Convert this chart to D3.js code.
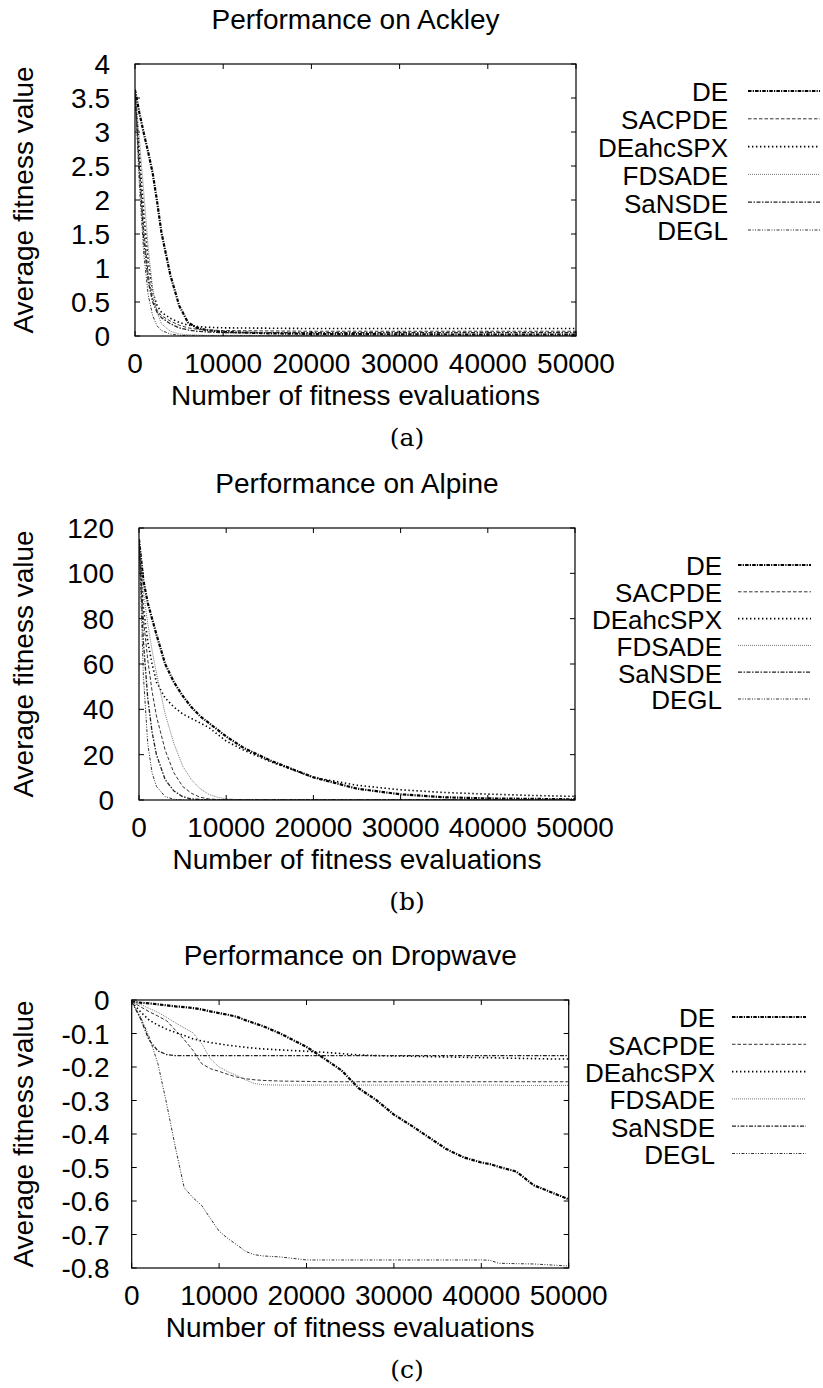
<!DOCTYPE html>
<html>
<head>
<meta charset="utf-8">
<script src="https://cdn.jsdelivr.net/npm/d3@7"></script>
<style>
  body { margin: 0; background: #fff; }
  svg { display: block; }
  text { font-family: "Liberation Sans", Arial, Helvetica, sans-serif; fill: #000; }
  .caption { font-family: "DejaVu Serif", "Liberation Serif", serif; }
</style>
</head>
<body>
<div id="chart"></div>
<script>
// series names in legend order
const seriesNames = ['DE', 'SACPDE', 'DEahcSPX', 'FDSADE', 'SaNSDE', 'DEGL']
const xTicks = [0, 10000, 20000, 30000, 40000, 50000]

// (a) Ackley
const ackleyX = [0, 500, 1000, 1500, 2000, 2500, 3000, 4000, 5000, 6000, 7000, 8000, 10000, 15000, 20000, 30000, 40000, 50000]
const ackleyDE = [3.62, 3.28, 2.98, 2.7, 2.4, 1.98, 1.52, 0.9, 0.45, 0.2, 0.12, 0.09, 0.06, 0.04, 0.03, 0.025, 0.02, 0.02]
const ackleySACPDE = [3.62, 2.5, 1.55, 0.9, 0.55, 0.38, 0.3, 0.22, 0.16, 0.12, 0.1, 0.09, 0.08, 0.075, 0.07, 0.07, 0.07, 0.07]
const ackleyDEahcSPX = [3.62, 2.7, 1.8, 1.1, 0.65, 0.45, 0.35, 0.26, 0.2, 0.16, 0.14, 0.13, 0.12, 0.115, 0.11, 0.11, 0.11, 0.11]
const ackleyFDSADE = [3.62, 2.9, 2.1, 1.3, 0.7, 0.35, 0.18, 0.07, 0.03, 0.02, 0.015, 0.01, 0.01, 0.01, 0.01, 0.01, 0.01, 0.01]
const ackleySaNSDE = [3.62, 2.4, 1.4, 0.8, 0.5, 0.35, 0.27, 0.18, 0.12, 0.09, 0.07, 0.06, 0.05, 0.05, 0.05, 0.05, 0.05, 0.05]
const ackleyDEGL = [3.62, 2.2, 1.2, 0.6, 0.3, 0.15, 0.08, 0.03, 0.01, 0.005, 0, 0, 0, 0, 0, 0, 0, 0]
const ackleyYTicks = [0, 0.5, 1, 1.5, 2, 2.5, 3, 3.5, 4]

// (b) Alpine
const alpineX = [0, 500, 1000, 1500, 2000, 3000, 4000, 5000, 6000, 7000, 8000, 9000, 10000, 12000, 15000, 20000, 25000, 30000, 35000, 40000, 45000, 50000]
const alpineDE = [115, 97, 87, 80, 73, 60, 52, 46, 41, 37, 34, 31, 28, 23, 17.5, 10, 5, 2.5, 1.2, 0.7, 0.5, 0.3]
const alpineSACPDE = [115, 80, 62, 48, 37, 22, 12, 6, 3, 1.2, 0.5, 0.2, 0, 0, 0, 0, 0, 0, 0, 0, 0, 0]
const alpineDEahcSPX = [115, 85, 70, 60, 52, 45, 41, 38, 36, 34, 32, 29, 26, 22, 17, 10, 6.5, 4.5, 3.3, 2.6, 2, 1.6]
const alpineFDSADE = [115, 92, 78, 66, 56, 38, 25, 15, 9, 5, 2.5, 1.2, 0.5, 0, 0, 0, 0, 0, 0, 0, 0, 0]
const alpineSaNSDE = [115, 70, 45, 30, 20, 9, 4, 1.5, 0.5, 0.2, 0, 0, 0, 0, 0, 0, 0, 0, 0, 0, 0, 0]
const alpineDEGL = [115, 55, 25, 12, 6, 1.5, 0.3, 0, 0, 0, 0, 0, 0, 0, 0, 0, 0, 0, 0, 0, 0, 0]
const alpineYTicks = [0, 20, 40, 60, 80, 100, 120]

// (c) Dropwave
const dropX = [0, 1000, 2000, 3000, 4000, 5000, 6000, 7000, 8000, 9000, 10000, 11000, 12000, 13000, 14000, 15000, 17000,
  20000, 22000, 24000, 26000, 28000, 30000, 32000, 34000, 36000, 38000, 40000, 41000, 42000, 44000, 46000, 48000, 50000]
const dropDE = [-0.005, -0.008, -0.01, -0.013, -0.016, -0.019, -0.021, -0.024, -0.028, -0.034, -0.039, -0.044, -0.05, -0.06, -0.069, -0.078, -0.1,
  -0.14, -0.174, -0.21, -0.264, -0.299, -0.342, -0.375, -0.41, -0.445, -0.47, -0.485, -0.49, -0.498, -0.512, -0.553, -0.574, -0.595]
const dropSACPDE = [-0.005, -0.02, -0.035, -0.048, -0.062, -0.09, -0.118, -0.15, -0.19, -0.205, -0.213, -0.222, -0.23, -0.235, -0.238, -0.24, -0.242,
  -0.243, -0.244, -0.244, -0.244, -0.244, -0.244, -0.244, -0.244, -0.244, -0.244, -0.244, -0.244, -0.244, -0.244, -0.244, -0.244, -0.244]
const dropDEahcSPX = [-0.005, -0.035, -0.06, -0.075, -0.087, -0.097, -0.106, -0.116, -0.122, -0.127, -0.131, -0.135, -0.138, -0.141, -0.144, -0.146, -0.149,
  -0.153, -0.156, -0.16, -0.164, -0.166, -0.167, -0.168, -0.169, -0.17, -0.171, -0.172, -0.172, -0.173, -0.174, -0.175, -0.176, -0.176]
const dropFDSADE = [-0.005, -0.013, -0.025, -0.037, -0.052, -0.068, -0.083, -0.098, -0.13, -0.176, -0.2, -0.214, -0.225, -0.238, -0.249, -0.253, -0.254,
  -0.254, -0.254, -0.254, -0.254, -0.254, -0.254, -0.254, -0.254, -0.254, -0.254, -0.254, -0.254, -0.254, -0.255, -0.255, -0.255, -0.255]
const dropSaNSDE = [-0.005, -0.055, -0.12, -0.152, -0.163, -0.166, -0.166, -0.166, -0.166, -0.166, -0.166, -0.166, -0.166, -0.166, -0.166, -0.166, -0.166,
  -0.166, -0.166, -0.166, -0.166, -0.166, -0.166, -0.166, -0.166, -0.166, -0.166, -0.166, -0.166, -0.166, -0.166, -0.166, -0.166, -0.166]
const dropDEGL = [-0.005, -0.05, -0.11, -0.19, -0.31, -0.44, -0.56, -0.59, -0.613, -0.652, -0.69, -0.712, -0.73, -0.75, -0.76, -0.764, -0.767,
  -0.776, -0.776, -0.776, -0.776, -0.776, -0.776, -0.776, -0.776, -0.776, -0.776, -0.776, -0.777, -0.786, -0.787, -0.788, -0.791, -0.794]
const dropYTicks = [0, -0.1, -0.2, -0.3, -0.4, -0.5, -0.6, -0.7, -0.8]

// gnuplot-like monochrome line styles, one per series
const lineStyles = {
  DE:       { stroke: '#000', width: 2.2, dash: '3.5,1.2,1.2,1.2' },
  SACPDE:   { stroke: '#333', width: 1,   dash: '3.5,2' },
  DEahcSPX: { stroke: '#000', width: 1.6, dash: '1.4,2.6' },
  FDSADE:   { stroke: '#777', width: 1,   dash: '1,1' },
  SaNSDE:   { stroke: '#222', width: 1.3, dash: '4,1.5,1.5,1.5' },
  DEGL:     { stroke: '#333', width: 1,   dash: '3,1.5,1,1.5,1,1.5' }
}

const panels = [
  { title: 'Performance on Ackley', caption: '(a)', xs: ackleyX,
    values: [ackleyDE, ackleySACPDE, ackleyDEahcSPX, ackleyFDSADE, ackleySaNSDE, ackleyDEGL],
    yDomain: [0, 4], yTicks: ackleyYTicks, yFormat: d => d3.format('')(d),
    top: 64, bottom: 336, left: 135, right: 576, tickGap: 25,
    legendX: 728, legendLine: [748, 820], legendY: 92, legendStep: 27.8 },
  { title: 'Performance on Alpine', caption: '(b)', xs: alpineX,
    values: [alpineDE, alpineSACPDE, alpineDEahcSPX, alpineFDSADE, alpineSaNSDE, alpineDEGL],
    yDomain: [0, 120], yTicks: alpineYTicks, yFormat: d => d3.format('')(d),
    top: 528, bottom: 800, left: 139, right: 575, tickGap: 25,
    legendX: 722, legendLine: [738, 811], legendY: 566, legendStep: 26.8 },
  { title: 'Performance on Dropwave', caption: '(c)', xs: dropX,
    values: [dropDE, dropSACPDE, dropDEahcSPX, dropFDSADE, dropSaNSDE, dropDEGL],
    yDomain: [-0.8, 0], yTicks: dropYTicks, yFormat: d => d === 0 ? '0' : d3.format('.1f')(d).replace('−', '-'),
    top: 1000, bottom: 1268, left: 131.7, right: 568.7, tickGap: 22,
    legendX: 715, legendLine: [732, 806], legendY: 1018, legendStep: 27.3 }
]

const width = 823
const height = 1388
const svg = d3.select('#chart').append('svg')
  .attr('width', width)
  .attr('height', height)

panels.forEach((p, pi) => {
  const x = d3.scaleLinear().domain([0, 50000]).range([p.left, p.right])
  const y = d3.scaleLinear().domain(p.yDomain).range([p.bottom, p.top])
  const g = svg.append('g')

  // clip lines to the plot box
  const clipId = 'clip' + pi
  svg.append('clipPath').attr('id', clipId)
    .append('rect')
    .attr('x', p.left).attr('y', p.top)
    .attr('width', p.right - p.left).attr('height', p.bottom - p.top)

  // title
  g.append('text')
    .attr('x', (p.left + p.right) / 2)
    .attr('y', p.top - 35)
    .attr('text-anchor', 'middle')
    .attr('font-size', 28)
    .text(p.title)

  // data lines
  const line = d3.line().x(d => x(d[0])).y(d => y(d[1]))
  const lines = g.append('g').attr('clip-path', `url(#${clipId})`)
  seriesNames.forEach((name, i) => {
    const st = lineStyles[name]
    lines.append('path')
      .datum(p.xs.map((xv, k) => [xv, p.values[i][k]]))
      .attr('fill', 'none')
      .attr('stroke', st.stroke)
      .attr('stroke-width', st.width)
      .attr('stroke-dasharray', st.dash)
      .attr('stroke-linejoin', 'round')
      .attr('d', line)
  })

  // inward ticks on all four sides, mirrored like gnuplot
  const tickLen = 5
  const axes = g.append('g').attr('stroke', '#000').attr('stroke-width', 1)
  axes.selectAll('.xt').data(xTicks).join('line')
    .attr('x1', d => x(d)).attr('x2', d => x(d))
    .attr('y1', p.bottom).attr('y2', p.bottom - tickLen)
  axes.selectAll('.xtt').data(xTicks).join('line')
    .attr('x1', d => x(d)).attr('x2', d => x(d))
    .attr('y1', p.top).attr('y2', p.top + tickLen)
  axes.selectAll('.yt').data(p.yTicks).join('line')
    .attr('x1', p.left).attr('x2', p.left + tickLen)
    .attr('y1', d => y(d)).attr('y2', d => y(d))
  axes.selectAll('.ytr').data(p.yTicks).join('line')
    .attr('x1', p.right).attr('x2', p.right - tickLen)
    .attr('y1', d => y(d)).attr('y2', d => y(d))

  // frame
  g.append('rect')
    .attr('x', p.left).attr('y', p.top)
    .attr('width', p.right - p.left).attr('height', p.bottom - p.top)
    .attr('fill', 'none').attr('stroke', '#000').attr('stroke-width', 1.2)

  // tick labels
  g.append('g').selectAll('text').data(xTicks).join('text')
    .attr('x', d => x(d))
    .attr('y', p.bottom + 37)
    .attr('text-anchor', 'middle')
    .attr('font-size', 28)
    .text(d => d)
  g.append('g').selectAll('text').data(p.yTicks).join('text')
    .attr('x', p.left - p.tickGap)
    .attr('y', d => y(d))
    .attr('dy', '0.36em')
    .attr('text-anchor', 'end')
    .attr('font-size', 28)
    .text(p.yFormat)

  // axis titles
  g.append('text')
    .attr('x', (p.left + p.right) / 2)
    .attr('y', p.bottom + 69)
    .attr('text-anchor', 'middle')
    .attr('font-size', 28)
    .text('Number of fitness evaluations')
  g.append('text')
    .attr('transform', `translate(33,${(p.top + p.bottom) / 2}) rotate(-90)`)
    .attr('text-anchor', 'middle')
    .attr('font-size', 28)
    .text('Average fitness value')

  // legend
  const legend = g.append('g')
  seriesNames.forEach((name, i) => {
    const st = lineStyles[name]
    const ly = p.legendY + i * p.legendStep
    legend.append('text')
      .attr('x', p.legendX)
      .attr('y', ly)
      .attr('dy', '0.36em')
      .attr('text-anchor', 'end')
      .attr('font-size', 26)
      .text(name)
    legend.append('line')
      .attr('x1', p.legendLine[0]).attr('x2', p.legendLine[1])
      .attr('y1', ly - 1).attr('y2', ly - 1)
      .attr('stroke', st.stroke)
      .attr('stroke-width', st.width)
      .attr('stroke-dasharray', st.dash)
  })

  // sub-figure caption
  g.append('text')
    .attr('class', 'caption')
    .attr('x', 407)
    .attr('y', p.bottom + 110)
    .attr('text-anchor', 'middle')
    .attr('font-size', 25)
    .text(p.caption)
})
</script>
</body>
</html>
